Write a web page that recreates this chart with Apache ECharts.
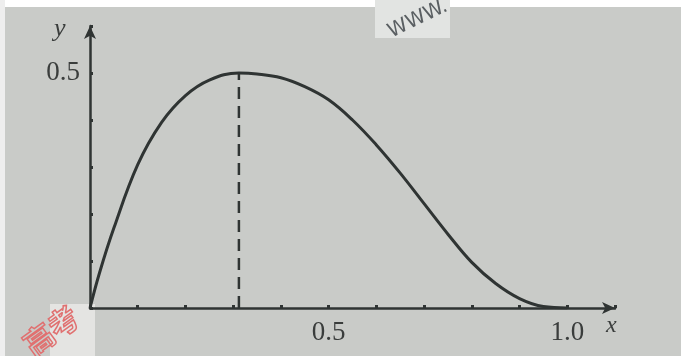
<!DOCTYPE html>
<html>
<head>
<meta charset="utf-8">
<script src="https://cdn.jsdelivr.net/npm/echarts@6/dist/echarts.min.js"></script>
<style>
  html, body { margin: 0; padding: 0; background: #ffffff; }
  #box { width: 681px; height: 356px; }
</style>
</head>
<body>
<div id="box"></div>
<script>
// values
const curveX = [0, 0.02, 0.05, 0.10, 0.15, 0.20, 0.25, 0.312, 0.35, 0.40, 0.45, 0.50, 0.55, 0.60, 0.65, 0.70, 0.75, 0.80, 0.85, 0.90, 0.95, 1.0]
const curveY = [0, 0.075, 0.17, 0.305, 0.395, 0.452, 0.485, 0.5, 0.498, 0.490, 0.471, 0.443, 0.400, 0.347, 0.287, 0.222, 0.157, 0.097, 0.052, 0.020, 0.003, 0]
const peakX = 0.312
const peakY = 0.5
const xTickLabels = ['0.5', '1.0']
const yTickLabels = ['0.5']

const ink = '#2f3433'
const serif = '"Liberation Serif", "DejaVu Serif", serif'

function pickLabel (v, list) {
  const s = v.toFixed(1)
  return list.indexOf(s) >= 0 ? s : ''
}

const myChart = echarts.init(document.getElementById('box'))
const options = {
  backgroundColor: '#c9cbc8',
  animation: false,
  grid: { left: 90, right: 66, top: 26, bottom: 48 },
  xAxis: {
    type: 'value',
    min: 0,
    max: 1.1,
    interval: 0.1,
    splitLine: { show: false },
    axisLine: {
      onZero: false,
      symbol: ['none', 'arrow'],
      symbolSize: [9, 13],
      lineStyle: { color: ink, width: 2.5 }
    },
    axisTick: { show: true, inside: true, length: 3, lineStyle: { color: ink, width: 3 } },
    axisLabel: {
      margin: 11,
      color: '#3a3d3c',
      fontFamily: serif,
      fontSize: 27,
      formatter: v => pickLabel(v, xTickLabels)
    }
  },
  yAxis: {
    type: 'value',
    min: 0,
    max: 0.6,
    interval: 0.1,
    splitLine: { show: false },
    axisLine: {
      onZero: false,
      symbol: ['none', 'arrow'],
      symbolSize: [9, 13],
      lineStyle: { color: ink, width: 2.5 }
    },
    axisTick: { show: true, inside: true, length: 3, lineStyle: { color: ink, width: 3 } },
    axisLabel: {
      margin: 10,
      color: '#3a3d3c',
      fontFamily: serif,
      fontSize: 27,
      formatter: v => pickLabel(v, yTickLabels)
    }
  },
  series: [
    {
      type: 'line',
      data: curveX.map((x, i) => [x, curveY[i]]),
      smooth: 0.4,
      showSymbol: false,
      lineStyle: { color: ink, width: 3 }
    },
    {
      type: 'line',
      data: [[peakX, 0], [peakX, peakY]],
      symbol: 'circle',
      symbolSize: [0, 6],
      showSymbol: true,
      itemStyle: { color: ink },
      lineStyle: { color: ink, width: 2.5, type: [12, 7] }
    }
  ],
  graphic: [
    { type: 'rect', shape: { x: 0, y: 0, width: 681, height: 7 }, style: { fill: '#ffffff' } },
    { type: 'rect', shape: { x: 0, y: 0, width: 5, height: 356 }, style: { fill: '#eeeeee' } },
    { type: 'rect', shape: { x: 50, y: 304, width: 45, height: 52 }, style: { fill: '#e4e4e2' } },
    { type: 'text', x: 54, y: 16, style: { text: 'y', font: 'italic 26px ' + serif, fill: '#3a3d3c' } },
    { type: 'text', x: 606, y: 314, style: { text: 'x', font: 'italic 24px ' + serif, fill: '#3a3d3c' } },
    { type: 'text', x: 18, y: 336, rotation: Math.PI / 5, style: { text: '高考', font: 'bold 30px "Noto Sans CJK SC"', fill: 'rgba(0,0,0,0)', stroke: '#e07070', lineWidth: 1.5 } },
    { type: 'rect', shape: { x: 375, y: 0, width: 75, height: 38 }, style: { fill: '#e2e4e2' } },
    { type: 'text', x: 385, y: 24, rotation: Math.PI / 7, style: { text: 'WWW.', font: '20px "DejaVu Sans"', fill: '#5a5f62' } }
  ]
}
myChart.setOption(options)
</script>
</body>
</html>
